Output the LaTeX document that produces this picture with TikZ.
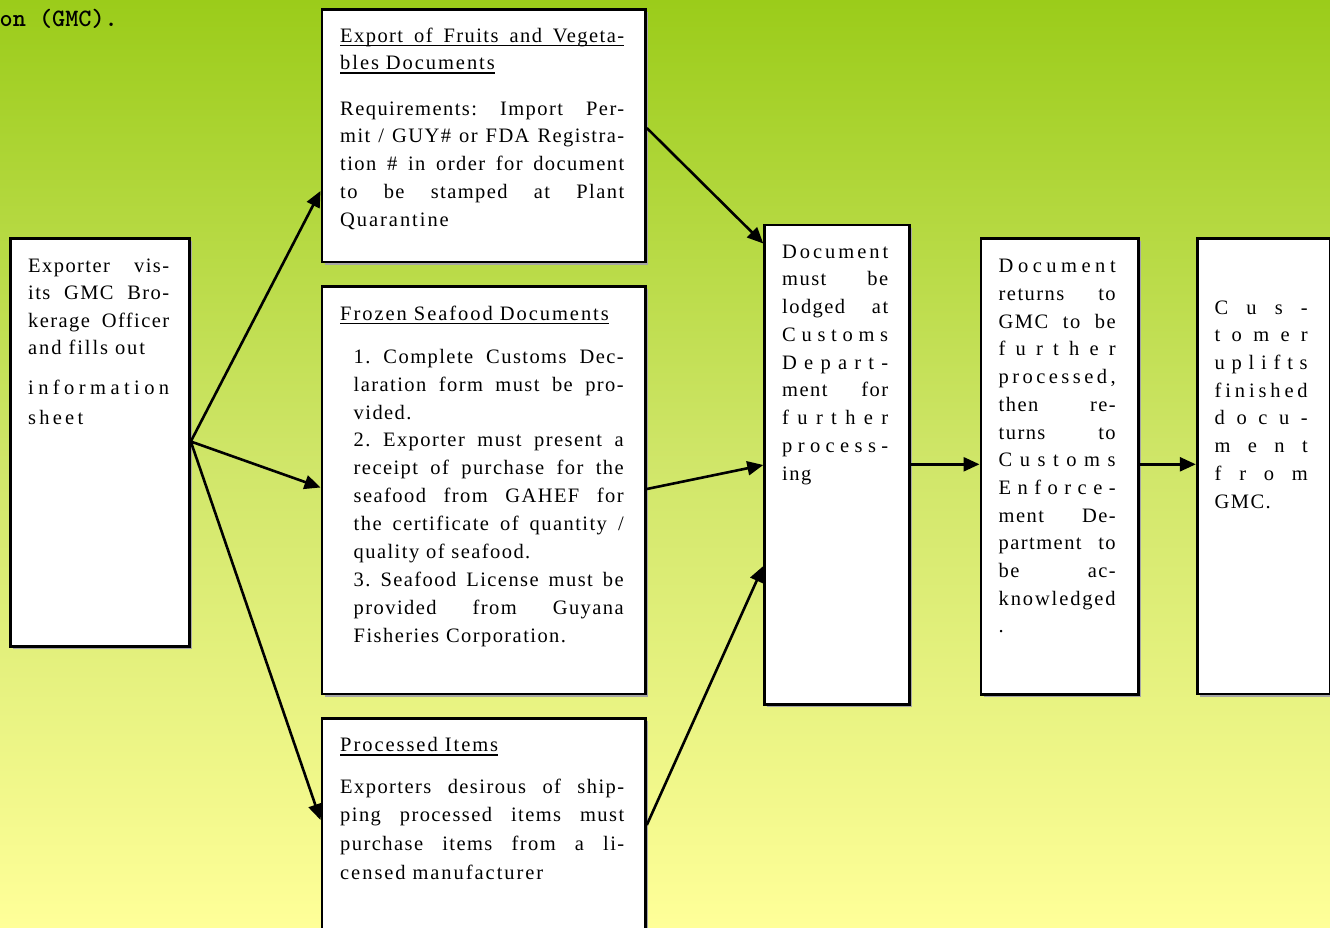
\documentclass[tikz,border=0pt]{standalone}
\usepackage{fontspec}
\setmainfont{Liberation Serif}
\newfontfamily\bodyfont[LetterSpace=7]{Liberation Serif}
\usetikzlibrary{arrows.meta,shadows}
\definecolor{bgtop}{RGB}{155,204,26}
\definecolor{bgmid}{RGB}{208,230,105}
\definecolor{bgbot}{RGB}{255,255,153}
\makeatletter
\newcommand\jl[1]{\makebox[\linewidth][s]{\spaceskip=0.25em plus 1fil minus 0.08em\relax\xspaceskip=\spaceskip #1}}
\newcommand\ls[1]{\makebox[\linewidth][s]{\ls@a#1\relax}}
\newcommand\lsw[2]{\makebox[#1][s]{\ls@a#2\relax}}
\def\ls@a#1{\ifx#1\relax\else#1\expandafter\ls@b\fi}
\def\ls@b#1{\ifx#1\relax\else\hfill#1\expandafter\ls@b\fi}
\newcommand\myul[1]{\leavevmode\setbox0\hbox{#1}\rlap{\rule[-4pt]{\wd0}{1.6pt}}\box0}
\newcommand\wide[1]{{\addfontfeature{LetterSpace=9.5}#1}}
\makeatother
\begin{document}
\begin{tikzpicture}[x=1pt,y=-1pt,
  box/.style={draw=black, fill=white, line width=2.8pt, inner sep=0pt, anchor=north west,
    drop shadow={shadow xshift=2.6pt, shadow yshift=-2.6pt, fill=black!35, opacity=1}},
  arr/.style={line width=2.6pt, -{Triangle[length=16pt,width=14pt]}},
  txt/.style={anchor=north west, inner sep=0pt, align=left},
  titlefont/.style={font=\ttfamily\bfseries\fontsize{25}{28}\selectfont}
]
\useasboundingbox (0,0) rectangle (1330,928);
\clip (0,0) rectangle (1330,928);
\shade[top color=bgtop, bottom color=bgbot, middle color=bgmid] (0,0) rectangle (1330,928);

% title fragment
\node[titlefont, anchor=base east, inner sep=0pt] (ttl) at (118,27) {on (GMC).};

% boxes
\node[box, minimum width=179pt, minimum height=408pt] (ex) at (9,237) {};
\node[box, minimum width=323.5pt, minimum height=252pt] (fruit) at (320.5,8.5) {};
\node[box, minimum width=323.5pt, minimum height=407.5pt] (frozen) at (320.5,285) {};
\node[box, minimum width=323.5pt, minimum height=270pt] (proc) at (320.5,717) {};
\node[box, minimum width=144.7pt, minimum height=479.5pt] (doc) at (763.3,223.5) {};
\node[box, minimum width=157.5pt, minimum height=456pt] (ret) at (979.5,236.7) {};
\node[box, minimum width=133pt, minimum height=455.5pt] (cust) at (1195.8,237) {};

% connectors
\draw[arr] (ex.east |- 0,441.5) -- (fruit.west |- 0,191);
\draw[arr] (ex.east |- 0,441.5) -- (frozen.west |- 0,487.5);
\draw[arr] (ex.east |- 0,441.5) -- (proc.west |- 0,820);
\draw[arr] (fruit.east |- 0,128) -- (doc.west |- 0,243.5);
\draw[arr] (frozen.east |- 0,489) -- (doc.west |- 0,465);
\draw[arr] (proc.east |- 0,825) -- (doc.west |- 0,566);
\draw[arr] (doc.east |- 0,464.3) -- (ret.west |- 0,464.3);
\draw[arr] (ret.east |- 0,464.3) -- (cust.west |- 0,464.3);

% texts
\node[txt, text width=141pt, font=\bodyfont\fontsize{20.5}{27.5}\selectfont] (ext) at (28,252.75) {%
\strut\jl{Exporter vis-}\\
\jl{its GMC Bro-}\\
\jl{kerage Officer}\\
\wide{and fills out}\\[12pt]
\ls{information}\\[2.5pt]
\lsw{55pt}{sheet}};

\node[txt, text width=284pt, font=\bodyfont\fontsize{20.5}{27.75}\selectfont] (fruitt) at (340,22.6) {%
\strut\myul{\jl{Export of Fruits and Vegeta-}}\\
\myul{\wide{bles Documents}}\\[17.5pt]
\jl{Requirements:  Import  Per-}\\
\jl{mit / GUY\# or FDA Registra-}\\
\jl{tion \#  in order for document}\\
\jl{to be stamped at Plant}\\
\wide{Quarantine}};

\node[txt, font=\bodyfont\fontsize{20.5}{27.75}\selectfont] (frozent) at (340,300.6) {%
\strut\myul{\wide{Frozen Seafood Documents}}};

\node[txt, text width=270pt, font=\bodyfont\fontsize{20.5}{27.9}\selectfont] (frozenb) at (353.5,343.5) {%
\strut\jl{1. Complete Customs Dec-}\\
\jl{laration form must be pro-}\\
vided.\\
\jl{2. Exporter must present a}\\
\jl{receipt of purchase for the}\\
\jl{seafood from GAHEF for}\\
\jl{the certificate of quantity /}\\
quality of seafood.\\
\jl{3. Seafood License must be}\\
\jl{provided from Guyana}\\
Fisheries Corporation.};

\node[txt, font=\bodyfont\fontsize{20.5}{27.75}\selectfont] (proct) at (340,732.3) {%
\strut\myul{\wide{Processed Items}}};

\node[txt, text width=284pt, font=\bodyfont\fontsize{20.5}{28.7}\selectfont] (procb) at (340,772.9) {%
\strut\jl{Exporters desirous of ship-}\\
\jl{ping processed items must}\\
\jl{purchase items from a li-}\\
\wide{censed manufacturer}};

\node[txt, text width=106pt, font=\bodyfont\fontsize{20.5}{27.75}\selectfont] (doct) at (782,238.6) {%
\strut\ls{Document}\\
\jl{must be}\\
\jl{lodged at}\\
\ls{Customs}\\
\ls{Depart-}\\
\jl{ment for}\\
\ls{further}\\
\ls{process-}\\
ing};

\node[txt, text width=117pt, font=\bodyfont\fontsize{20.5}{27.7}\selectfont] (rett) at (998.5,253.3) {%
\strut\ls{Document}\\
\jl{returns to}\\
\jl{GMC to be}\\
\ls{further}\\
\ls{processed,}\\
\jl{then re-}\\
\jl{turns to}\\
\ls{Customs}\\
\ls{Enforce-}\\
\jl{ment De-}\\
\jl{partment to}\\
\jl{be ac-}\\
\ls{knowledged}\\
.};

\node[txt, text width=93pt, font=\bodyfont\fontsize{20.5}{27.7}\selectfont] (custt) at (1214.5,294.6) {%
\strut\ls{Cus-}\\
\ls{tomer}\\
\ls{uplifts}\\
\ls{finished}\\
\ls{docu-}\\
\ls{ment}\\
\ls{from}\\
GMC.};
\end{tikzpicture}
\end{document}
